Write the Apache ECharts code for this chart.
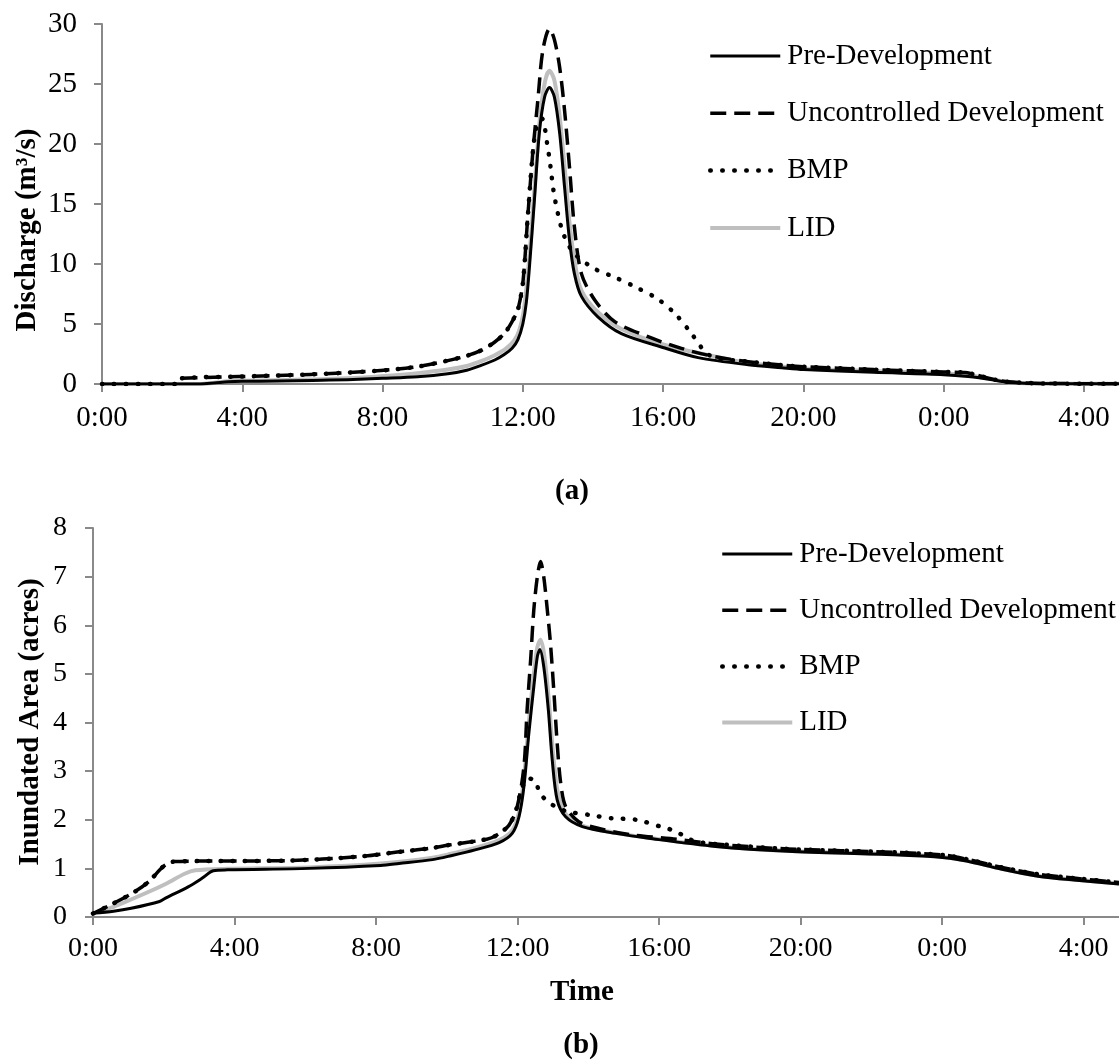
<!DOCTYPE html>
<html>
<head>
<meta charset="utf-8">
<script src="https://cdn.jsdelivr.net/npm/echarts@6/dist/echarts.min.js"></script>
<style>
html,body{margin:0;padding:0;background:#fff;}
#chart{width:1119px;height:1061px;}
</style>
</head>
<body>
<div id="chart"></div>
<script>
// ---------- DATA (time in hours from 0:00, values) ----------
const seriesNames = ['Pre-Development', 'Uncontrolled Development', 'BMP', 'LID'];
const xTickHours = [0, 4, 8, 12, 16, 20, 24, 28];
const yTicksQ = [0, 5, 10, 15, 20, 25, 30];
const yTicksA = [0, 1, 2, 3, 4, 5, 6, 7, 8];

// (a) Discharge (m3/s)
const qPre = [[0,0],[2.8,0],[3.2,0.08],[3.6,0.18],[4,0.22],[5,0.25],[6,0.3],[7,0.36],[8,0.47],[9,0.6],[9.86,0.85],[10.4,1.15],[10.81,1.55],[11.2,2.0],[11.47,2.45],[11.7,3.0],[11.86,3.7],[12.0,5.0],[12.1,6.8],[12.19,9.8],[12.33,15.3],[12.47,20.9],[12.62,23.9],[12.76,24.7],[12.9,23.9],[13.05,20.9],[13.19,16.4],[13.33,12.0],[13.47,9.2],[13.67,7.3],[14.14,5.6],[14.81,4.2],[16.05,3.0],[17.0,2.2],[18.43,1.6],[19.38,1.35],[20,1.2],[22,0.97],[24,0.78],[24.7,0.62],[25.4,0.35],[25.85,0.12],[26.5,0.05],[29,0.02]];
const qUnc = [[2.27,0.47],[3.91,0.62],[5.95,0.8],[7.95,1.12],[9.0,1.45],[9.86,1.95],[10.4,2.35],[10.81,2.8],[11.2,3.5],[11.5,4.3],[11.75,5.5],[11.86,6.2],[12.0,8.4],[12.14,13.9],[12.29,19.5],[12.43,23.7],[12.57,27.8],[12.76,29.6],[12.9,28.7],[13.05,26.4],[13.19,22.8],[13.33,18.1],[13.47,13.1],[13.67,9.2],[14.05,7.0],[14.62,5.2],[15.57,3.94],[16.52,2.97],[17.47,2.28],[18.43,1.86],[19.38,1.58],[20,1.44],[22,1.2],[24,1.0],[24.6,0.95],[25.4,0.4],[25.85,0.18],[26.8,0.05],[29,0.02]];
const qBmp = [[0,0],[2.2,0],[2.27,0.47],[3.91,0.62],[5.95,0.8],[7.95,1.12],[9.0,1.45],[9.86,1.95],[10.4,2.35],[10.81,2.8],[11.2,3.5],[11.5,4.3],[11.75,5.5],[11.86,6.2],[12.0,8.4],[12.14,13.9],[12.29,19.5],[12.4,21.5],[12.55,22.1],[12.69,20.1],[12.79,18.1],[12.87,16.2],[13.0,14.2],[13.17,12.4],[13.46,10.9],[14.05,9.6],[14.62,8.9],[15.27,8.0],[15.86,7.06],[16.36,5.8],[16.81,4.2],[17.19,2.7],[17.47,2.2],[18.43,1.86],[19.38,1.58],[20,1.44],[22,1.2],[24,1.0],[24.6,0.95],[25.4,0.4],[25.85,0.18],[26.8,0.05],[29,0.02]];
const qLid = [[0,0],[2.8,0],[3.2,0.1],[3.6,0.22],[4,0.27],[5,0.32],[6,0.38],[7,0.48],[7.95,0.65],[9,0.9],[9.86,1.2],[10.4,1.5],[10.81,1.9],[11.2,2.4],[11.5,2.9],[11.75,3.6],[11.9,4.5],[12.02,6.0],[12.12,8.5],[12.22,11.8],[12.35,17],[12.5,22.5],[12.64,25.3],[12.76,26.1],[12.9,25.3],[13.05,22.3],[13.2,17.8],[13.34,13.2],[13.5,9.8],[13.67,7.8],[14.1,6.1],[14.8,4.6],[16.05,3.25],[17.47,2.3],[18.43,1.75],[19.38,1.45],[20,1.3],[22,1.08],[24,0.88],[24.7,0.72],[25.4,0.38],[25.85,0.14],[26.5,0.05],[29,0.02]];

// (b) Inundated Area (acres)
const aPre = [[0,0.08],[0.58,0.12],[1.08,0.18],[1.88,0.32],[2.08,0.4],[2.69,0.62],[3.09,0.8],[3.4,0.95],[3.8,0.97],[6.1,1.0],[8.13,1.06],[8.65,1.1],[9.6,1.18],[10.12,1.26],[10.8,1.38],[11.48,1.53],[11.85,1.72],[12.04,2.06],[12.18,2.68],[12.32,3.78],[12.46,4.74],[12.56,5.36],[12.63,5.5],[12.74,5.15],[12.87,4.26],[12.98,3.23],[13.12,2.41],[13.36,2.06],[13.83,1.86],[14.77,1.72],[15.7,1.62],[17.6,1.45],[19.63,1.35],[22.66,1.28],[24.08,1.22],[24.69,1.15],[25.69,0.98],[26.71,0.84],[27.72,0.76],[29,0.68]];
const aUnc = [[0,0.07],[0.58,0.28],[1.18,0.52],[1.58,0.73],[1.99,1.04],[2.29,1.14],[3.1,1.15],[5.47,1.16],[7.49,1.24],[8.65,1.34],[9.51,1.41],[10.06,1.48],[11.13,1.6],[11.38,1.67],[11.76,1.89],[11.99,2.27],[12.18,3.09],[12.27,4.26],[12.37,5.29],[12.46,6.32],[12.56,7.0],[12.65,7.31],[12.74,7.0],[12.84,6.32],[12.93,5.63],[13.03,4.6],[13.12,3.57],[13.22,2.75],[13.36,2.27],[13.73,1.96],[14.3,1.82],[15.24,1.69],[16.5,1.6],[17.6,1.5],[19.63,1.4],[22.66,1.33],[24.08,1.27],[24.69,1.19],[25.69,1.02],[26.71,0.88],[27.72,0.8],[29,0.71]];
const aBmp = [[0,0.07],[0.58,0.28],[1.18,0.52],[1.58,0.73],[1.99,1.04],[2.29,1.14],[3.1,1.15],[5.47,1.16],[7.49,1.24],[8.65,1.34],[9.51,1.41],[10.06,1.48],[11.13,1.6],[11.38,1.67],[11.76,1.89],[11.99,2.27],[12.1,2.6],[12.3,2.85],[12.51,2.8],[12.6,2.6],[12.79,2.41],[13.07,2.27],[13.4,2.17],[14.03,2.1],[14.67,2.03],[15.35,2.0],[16.04,1.86],[16.36,1.79],[16.65,1.69],[16.93,1.58],[17.3,1.52],[17.6,1.5],[19.63,1.4],[22.66,1.33],[24.08,1.27],[24.69,1.19],[25.69,1.02],[26.71,0.88],[27.72,0.8],[29,0.71]];
const aLid = [[0,0.07],[0.58,0.21],[1.58,0.52],[2.08,0.69],[2.59,0.89],[2.89,0.96],[3.8,0.99],[6.1,1.02],[8.13,1.1],[9.6,1.22],[10.12,1.3],[10.8,1.42],[11.48,1.58],[11.85,1.78],[12.04,2.15],[12.18,2.85],[12.32,4.0],[12.46,5.0],[12.56,5.55],[12.65,5.7],[12.76,5.35],[12.89,4.4],[13.0,3.4],[13.14,2.55],[13.38,2.1],[13.83,1.88],[14.77,1.73],[15.7,1.63],[17.6,1.46],[19.63,1.36],[22.66,1.29],[24.08,1.23],[24.69,1.16],[25.69,0.99],[26.71,0.85],[27.72,0.77],[29,0.69]];

// ---------- STYLE ----------
const FONT = '"Liberation Serif", "Times New Roman", serif';
const AXIS_COLOR = '#898989';
const styles = {
  'Pre-Development': {color:'#000000', width:3, type:'solid', cap:'butt'},
  'Uncontrolled Development': {color:'#000000', width:3.5, type:[16,8], cap:'butt'},
  'BMP': {color:'#000000', width:4.5, type:[0.5,11.5], cap:'round'},
  'LID': {color:'#bfbfbf', width:4, type:'solid', cap:'butt'}
};
const order = ['LID','Pre-Development','Uncontrolled Development','BMP'];

function xAxisCfg(gi, fs, margin){
  return {
    type:'value', gridIndex:gi, min:0, max:29, interval:4,
    axisLine:{show:true, onZero:false, lineStyle:{color:AXIS_COLOR, width:2}},
    axisTick:{show:true, length:8, inside:false, lineStyle:{color:AXIS_COLOR, width:2}},
    axisLabel:{show:true, color:'#000', fontFamily:FONT, fontSize:fs, margin:margin,
      showMaxLabel:false,
      formatter:function(v){ return (Math.round(v)%24)+':00'; }},
    splitLine:{show:false}
  };
}
function yAxisCfg(gi, max, interval, fs, margin){
  return {
    type:'value', gridIndex:gi, min:0, max:max, interval:interval,
    axisLine:{show:true, lineStyle:{color:AXIS_COLOR, width:2}},
    axisTick:{show:true, length:8, lineStyle:{color:AXIS_COLOR, width:2}},
    axisLabel:{show:true, color:'#000', fontFamily:FONT, fontSize:fs, margin:margin},
    splitLine:{show:false}
  };
}
const dataMap = [
  {'Pre-Development':qPre,'Uncontrolled Development':qUnc,'BMP':qBmp,'LID':qLid},
  {'Pre-Development':aPre,'Uncontrolled Development':aUnc,'BMP':aBmp,'LID':aLid}
];
const series = [];
[0,1].forEach(function(gi){
  order.forEach(function(name){
    const s = styles[name];
    series.push({
      type:'line', name:name, xAxisIndex:gi, yAxisIndex:gi,
      data:dataMap[gi][name], showSymbol:false, symbol:'none',
      smooth:0.3, clip:true, animation:false, z: name==='LID'?2:(name==='BMP'?5:3),
      lineStyle:{color:s.color, width:s.width, type:s.type, cap:s.cap, join:'round'},
      itemStyle:{color:s.color}
    });
  });
});
function legendCfg(left, top, gap){
  return {
    orient:'vertical', left:left, top:top, itemWidth:70, itemHeight:14, itemGap:gap,
    padding:0, selectedMode:false,
    itemStyle:{opacity:0, borderWidth:0},
    data:seriesNames.map(function(n){
      return {name:n, itemStyle:{opacity:0, borderWidth:0},
        lineStyle:{width:styles[n].width, type:styles[n].type, cap:styles[n].cap, opacity:1}};
    }),
    textStyle:{color:'#000', fontFamily:FONT, fontSize:29, lineHeight:30, padding:[0,0,0,2]}
  };
}
const option = {
  backgroundColor:'#fff',
  animation:false,
  grid:[
    {left:102, top:24, width:1017, height:360, containLabel:false},
    {left:93, top:528, width:1026, height:389, containLabel:false}
  ],
  xAxis:[xAxisCfg(0,29,20), xAxisCfg(1,28,18)],
  yAxis:[yAxisCfg(0,30,5,29,25), yAxisCfg(1,8,1,28,26)],
  legend:[legendCfg(708, 41, 27.3), legendCfg(720, 539, 26.2)],
  series:series,
  graphic:[
    {type:'text', x:28, y:230, rotation:Math.PI/2,
      style:{text:'Discharge (m³/s)', fontFamily:FONT, fontSize:29, fontWeight:'bold', fill:'#000', align:'center', verticalAlign:'middle'}},
    {type:'text', x:31, y:722, rotation:Math.PI/2,
      style:{text:'Inundated Area (acres)', fontFamily:FONT, fontSize:29, fontWeight:'bold', fill:'#000', align:'center', verticalAlign:'middle'}},
    {type:'text', x:572, y:492,
      style:{text:'(a)', fontFamily:FONT, fontSize:29, fontWeight:'bold', fill:'#000', align:'center', verticalAlign:'middle'}},
    {type:'text', x:582, y:993,
      style:{text:'Time', fontFamily:FONT, fontSize:29, fontWeight:'bold', fill:'#000', align:'center', verticalAlign:'middle'}},
    {type:'text', x:581, y:1046,
      style:{text:'(b)', fontFamily:FONT, fontSize:29, fontWeight:'bold', fill:'#000', align:'center', verticalAlign:'middle'}}
  ]
};
const chart = echarts.init(document.getElementById('chart'), null, {renderer:'canvas'});
chart.setOption(option);
</script>
</body>
</html>
